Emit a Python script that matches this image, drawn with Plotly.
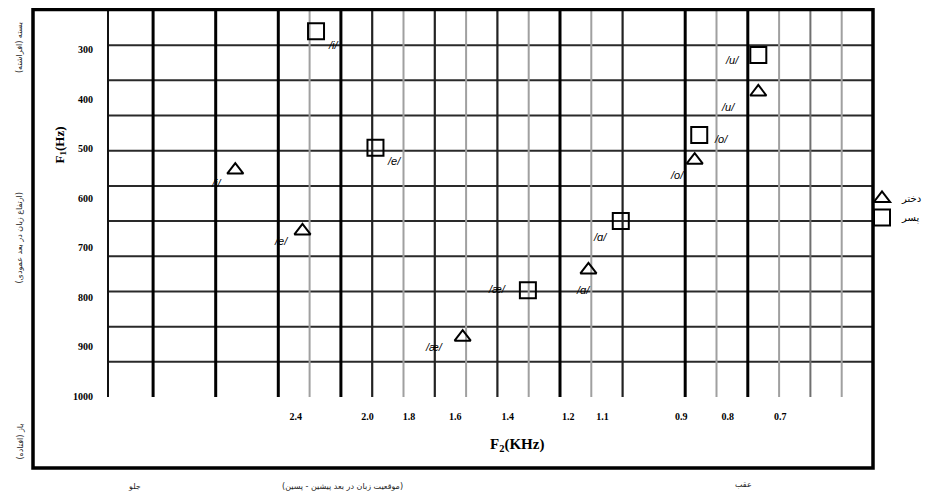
import math
import plotly.graph_objects as go

# ---- data ----
vowels = ["/i/", "/e/", "/æ/", "/ɑ/", "/o/", "/u/"]
f2_female_khz = [2.80, 2.36, 1.57, 1.14, 0.87, 0.74]
f1_female_hz = [543, 666, 881, 745, 523, 385]
f2_male_khz = [2.28, 1.96, 1.33, 1.05, 0.86, 0.74]
f1_male_hz = [262, 498, 786, 646, 472, 310]

x_tick_values = [2.4, 2.0, 1.8, 1.6, 1.4, 1.2, 1.1, 0.9, 0.8, 0.7]
x_tick_labels = ["2.4", "2.0", "1.8", "1.6", "1.4", "1.2", "1.1", "0.9", "0.8", "0.7"]
y_tick_values = [300, 400, 500, 600, 700, 800, 900, 1000]
y_tick_labels = ["300", "400", "500", "600", "700", "800", "900", "1000"]

legend_female = "دختر"
legend_male = "پسر"

# label placement (pixel shifts) for each vowel label
female_label_shift = [(-19, -13), (-21, -10), (-29, -10), (-5, -20), (-18, -15), (-30, -15)]
male_label_shift = [(17, -14), (19, -13), (-31, 1), (-21, -16), (22, -4), (-26, -5)]

W, H = 949, 501
OFF = 8  # page body margin of the browser
L, R, T, B = 109, 873, 10, 397  # plot area as seen in the picture
PW, PH = R - L, B - T


def px(p):
    return (p - L) / PW


def py(p):
    return (B - p) / PH


fig = go.Figure()

fig.add_trace(go.Scatter(
    x=f2_female_khz, y=f1_female_hz, mode="markers", name=legend_female,
    marker=dict(symbol="triangle-up-open", size=14, color="black",
                line=dict(width=2, color="black")),
))
fig.add_trace(go.Scatter(
    x=f2_male_khz, y=f1_male_hz, mode="markers", name=legend_male,
    marker=dict(symbol="square-open", size=16, color="black",
                line=dict(width=2, color="black")),
))

annotations = []
label_font = dict(family="Liberation Sans, Arial", size=11, color="black")
for v, xx, yy, (dx, dy) in zip(vowels, f2_female_khz, f1_female_hz, female_label_shift):
    annotations.append(dict(x=math.log10(xx), y=yy, xref="x", yref="y", text="<i>%s</i>" % v,
                            showarrow=False, xshift=dx, yshift=dy, font=label_font))
for v, xx, yy, (dx, dy) in zip(vowels, f2_male_khz, f1_male_hz, male_label_shift):
    annotations.append(dict(x=math.log10(xx), y=yy, xref="x", yref="y", text="<i>%s</i>" % v,
                            showarrow=False, xshift=dx, yshift=dy, font=label_font))

title_font = dict(family="Liberation Serif, Times New Roman", size=15, color="black")
annotations.append(dict(x=px(517), y=py(456), xref="paper", yref="paper",
                        text="<b>F<sub>2</sub>(KHz)</b>", showarrow=False, font=title_font))
annotations.append(dict(x=px(50), y=py(145), xref="paper", yref="paper",
                        text="<b>F<sub>1</sub>(Hz)</b>", showarrow=False, textangle=-90,
                        font=dict(family="Liberation Serif, Times New Roman", size=13, color="black")))

fa_font = dict(family="DejaVu Sans", size=8, color="#222")
annotations += [
    dict(x=px(13), y=py(20), xref="paper", yref="paper", text="بسته (افراشته)",
         showarrow=False, textangle=-90, font=fa_font),
    dict(x=px(13), y=py(238), xref="paper", yref="paper", text="(ارتفاع زبان در بعد عمودی)",
         showarrow=False, textangle=-90, font=fa_font),
    dict(x=px(13), y=py(462), xref="paper", yref="paper", text="باز (افتاده)",
         showarrow=False, textangle=-90, font=fa_font),
    dict(x=px(126), y=py(493), xref="paper", yref="paper", text="جلو",
         showarrow=False, font=fa_font),
    dict(x=px(280), y=py(493), xref="paper", yref="paper", text="(موقعیت زبان در بعد پیشین - پسین)",
         showarrow=False, font=fa_font),
    dict(x=px(754), y=py(491), xref="paper", yref="paper", text="عقب",
         showarrow=False, font=fa_font),
]

shapes = []
# horizontal grid lines
for k in range(1, 11):
    shapes.append(dict(type="line", xref="paper", yref="paper", x0=0, x1=1,
                       y0=k / 11, y1=k / 11, layer="below",
                       line=dict(color="#2a2a2a", width=2)))
# vertical grid lines, counted in grid units from the right edge
unit = 31.3 / PW
thick = [4, 6, 10, 17, 19, 21, 23]
medium = [8, 12, 14, 16]
darkgray = [2]
gray = [1, 3, 5, 9, 11, 13, 15, 18]
for group, col, wdt in ((gray, "#a0a0a0", 2), (darkgray, "#707070", 2),
                        (medium, "#222", 2.2), (thick, "#000", 3)):
    for k in group:
        xv = 1 - k * unit
        shapes.append(dict(type="line", xref="paper", yref="paper", x0=xv, x1=xv,
                           y0=0, y1=1, layer="below", line=dict(color=col, width=wdt)))
# outer frame
shapes.append(dict(type="rect", xref="paper", yref="paper",
                   x0=px(33), x1=px(873), y0=py(468), y1=py(9.5),
                   line=dict(color="black", width=3.5), fillcolor="rgba(0,0,0,0)"))

tick_font = dict(family="Liberation Serif, Times New Roman", size=10, color="black")

fig.update_layout(
    width=W, height=H,
    margin=dict(l=L - OFF, r=W - R + OFF, t=T - OFF, b=H - B + OFF),
    paper_bgcolor="white", plot_bgcolor="white",
    xaxis=dict(type="log", range=[0.5867, -0.2575], tickvals=x_tick_values,
               ticktext=["<b>%s</b>" % t for t in x_tick_labels],
               showgrid=False, zeroline=False, showline=False, ticks="",
               ticklabelstandoff=12, tickfont=tick_font),
    yaxis=dict(range=[1002, 219.1], tickvals=y_tick_values,
               ticktext=["<b>%s</b>" % t for t in y_tick_labels],
               showgrid=False, zeroline=False, showline=True, linecolor="#111",
               linewidth=2, ticks="", ticklabelstandoff=12, tickfont=tick_font),
    legend=dict(x=px(862), y=py(184), xanchor="left", yanchor="top",
                bgcolor="rgba(0,0,0,0)", font=dict(family="DejaVu Sans", size=10, color="black"),
                itemwidth=30, tracegroupgap=0),
    annotations=annotations,
    shapes=shapes,
    showlegend=True,
)

fig.write_html("out.html")
